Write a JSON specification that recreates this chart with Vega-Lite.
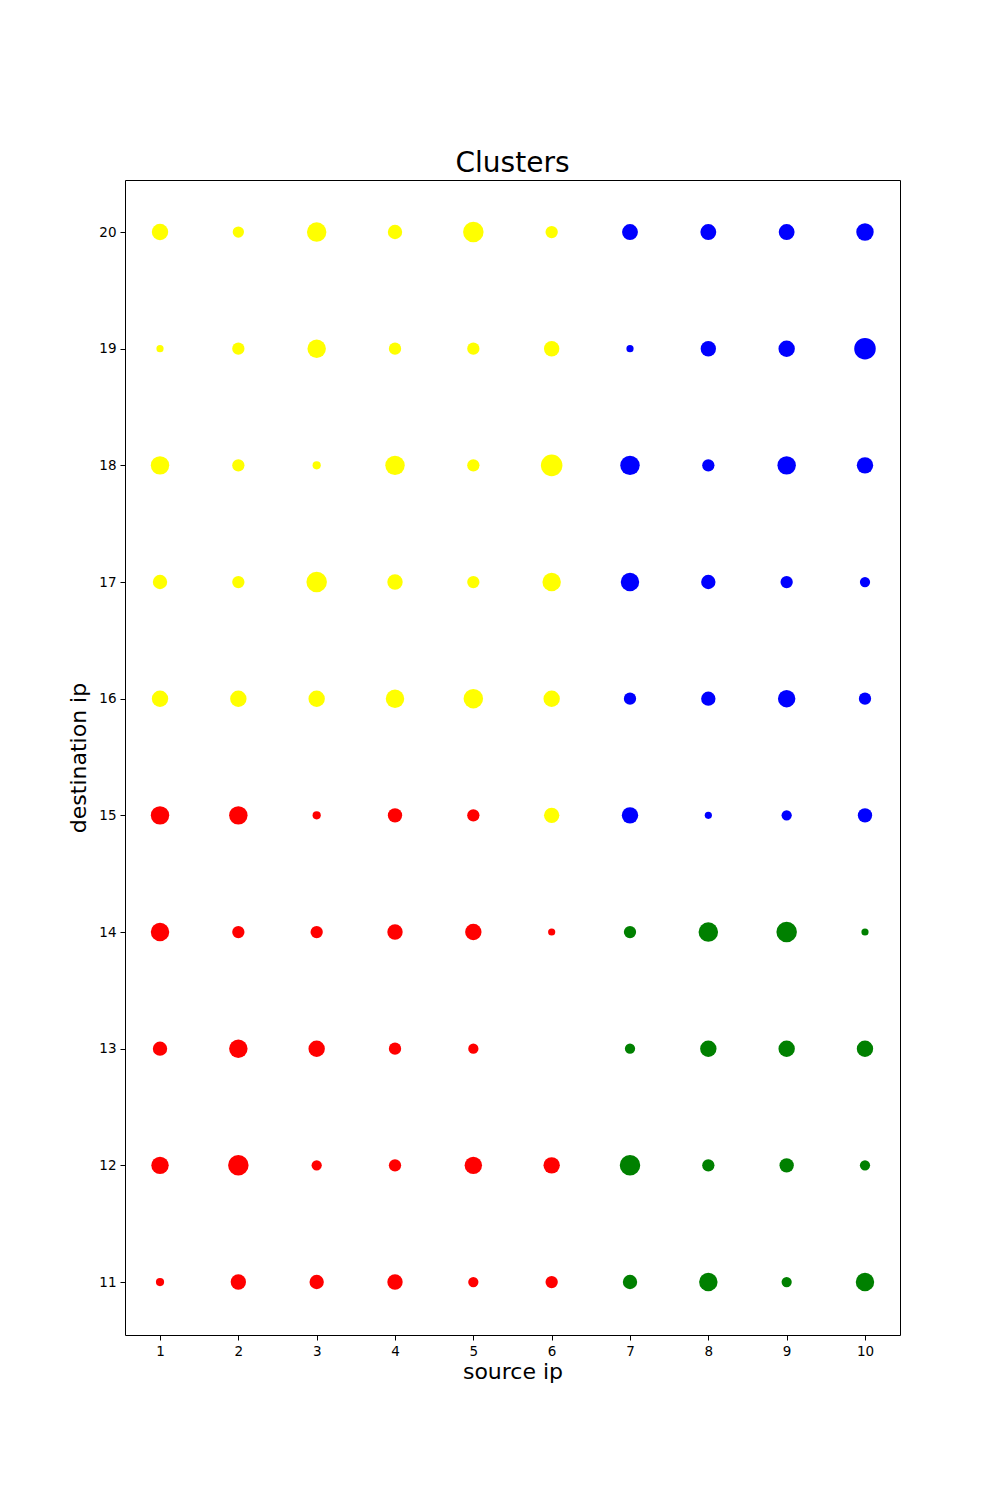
{
  "$schema": "https://vega.github.io/schema/vega-lite/v6.json",
  "width": 775,
  "height": 1155,
  "autosize": "none",
  "padding": {"left": 125, "top": 180, "right": 100, "bottom": 165},
  "background": "white",
  "config": {
    "font": "DejaVu Sans",
    "view": {"stroke": "#000000", "strokeWidth": 1},
    "axis": {"grid": false, "domainColor": "#000", "tickColor": "#000", "labelColor": "#000", "titleColor": "#000", "labelFont": "DejaVu Sans", "titleFont": "DejaVu Sans", "labelFontSize": 13.5, "titleFontSize": 22, "titleFontWeight": "normal", "tickSize": 5, "labelPadding": 4}
  },
  "title": {"text": "Clusters", "fontSize": 28, "fontWeight": "normal", "font": "DejaVu Sans", "color": "#000", "offset": 2, "anchor": "middle"},
  "data": {"values": [
    {"src": 1, "dst": 20, "cluster": "yellow", "v": 256}, {"src": 2, "dst": 20, "cluster": "yellow", "v": 121}, {"src": 3, "dst": 20, "cluster": "yellow", "v": 361}, {"src": 4, "dst": 20, "cluster": "yellow", "v": 196}, {"src": 5, "dst": 20, "cluster": "yellow", "v": 400}, {"src": 6, "dst": 20, "cluster": "yellow", "v": 144}, {"src": 7, "dst": 20, "cluster": "blue", "v": 240}, {"src": 8, "dst": 20, "cluster": "blue", "v": 240}, {"src": 9, "dst": 20, "cluster": "blue", "v": 240}, {"src": 10, "dst": 20, "cluster": "blue", "v": 289},
    {"src": 1, "dst": 19, "cluster": "yellow", "v": 49}, {"src": 2, "dst": 19, "cluster": "yellow", "v": 144}, {"src": 3, "dst": 19, "cluster": "yellow", "v": 324}, {"src": 4, "dst": 19, "cluster": "yellow", "v": 144}, {"src": 5, "dst": 19, "cluster": "yellow", "v": 144}, {"src": 6, "dst": 19, "cluster": "yellow", "v": 225}, {"src": 7, "dst": 19, "cluster": "blue", "v": 49}, {"src": 8, "dst": 19, "cluster": "blue", "v": 225}, {"src": 9, "dst": 19, "cluster": "blue", "v": 256}, {"src": 10, "dst": 19, "cluster": "blue", "v": 441},
    {"src": 1, "dst": 18, "cluster": "yellow", "v": 324}, {"src": 2, "dst": 18, "cluster": "yellow", "v": 144}, {"src": 3, "dst": 18, "cluster": "yellow", "v": 64}, {"src": 4, "dst": 18, "cluster": "yellow", "v": 361}, {"src": 5, "dst": 18, "cluster": "yellow", "v": 144}, {"src": 6, "dst": 18, "cluster": "yellow", "v": 441}, {"src": 7, "dst": 18, "cluster": "blue", "v": 361}, {"src": 8, "dst": 18, "cluster": "blue", "v": 144}, {"src": 9, "dst": 18, "cluster": "blue", "v": 324}, {"src": 10, "dst": 18, "cluster": "blue", "v": 256},
    {"src": 1, "dst": 17, "cluster": "yellow", "v": 196}, {"src": 2, "dst": 17, "cluster": "yellow", "v": 144}, {"src": 3, "dst": 17, "cluster": "yellow", "v": 400}, {"src": 4, "dst": 17, "cluster": "yellow", "v": 225}, {"src": 5, "dst": 17, "cluster": "yellow", "v": 144}, {"src": 6, "dst": 17, "cluster": "yellow", "v": 324}, {"src": 7, "dst": 17, "cluster": "blue", "v": 324}, {"src": 8, "dst": 17, "cluster": "blue", "v": 196}, {"src": 9, "dst": 17, "cluster": "blue", "v": 144}, {"src": 10, "dst": 17, "cluster": "blue", "v": 100},
    {"src": 1, "dst": 16, "cluster": "yellow", "v": 256}, {"src": 2, "dst": 16, "cluster": "yellow", "v": 256}, {"src": 3, "dst": 16, "cluster": "yellow", "v": 256}, {"src": 4, "dst": 16, "cluster": "yellow", "v": 324}, {"src": 5, "dst": 16, "cluster": "yellow", "v": 361}, {"src": 6, "dst": 16, "cluster": "yellow", "v": 256}, {"src": 7, "dst": 16, "cluster": "blue", "v": 144}, {"src": 8, "dst": 16, "cluster": "blue", "v": 196}, {"src": 9, "dst": 16, "cluster": "blue", "v": 289}, {"src": 10, "dst": 16, "cluster": "blue", "v": 144},
    {"src": 1, "dst": 15, "cluster": "red", "v": 324}, {"src": 2, "dst": 15, "cluster": "red", "v": 324}, {"src": 3, "dst": 15, "cluster": "red", "v": 64}, {"src": 4, "dst": 15, "cluster": "red", "v": 196}, {"src": 5, "dst": 15, "cluster": "red", "v": 144}, {"src": 6, "dst": 15, "cluster": "yellow", "v": 225}, {"src": 7, "dst": 15, "cluster": "blue", "v": 256}, {"src": 8, "dst": 15, "cluster": "blue", "v": 49}, {"src": 9, "dst": 15, "cluster": "blue", "v": 100}, {"src": 10, "dst": 15, "cluster": "blue", "v": 196},
    {"src": 1, "dst": 14, "cluster": "red", "v": 324}, {"src": 2, "dst": 14, "cluster": "red", "v": 144}, {"src": 3, "dst": 14, "cluster": "red", "v": 144}, {"src": 4, "dst": 14, "cluster": "red", "v": 225}, {"src": 5, "dst": 14, "cluster": "red", "v": 256}, {"src": 6, "dst": 14, "cluster": "red", "v": 49}, {"src": 7, "dst": 14, "cluster": "green", "v": 144}, {"src": 8, "dst": 14, "cluster": "green", "v": 361}, {"src": 9, "dst": 14, "cluster": "green", "v": 400}, {"src": 10, "dst": 14, "cluster": "green", "v": 49},
    {"src": 1, "dst": 13, "cluster": "red", "v": 196}, {"src": 2, "dst": 13, "cluster": "red", "v": 324}, {"src": 3, "dst": 13, "cluster": "red", "v": 256}, {"src": 4, "dst": 13, "cluster": "red", "v": 144}, {"src": 5, "dst": 13, "cluster": "red", "v": 100}, {"src": 7, "dst": 13, "cluster": "green", "v": 100}, {"src": 8, "dst": 13, "cluster": "green", "v": 256}, {"src": 9, "dst": 13, "cluster": "green", "v": 256}, {"src": 10, "dst": 13, "cluster": "green", "v": 256},
    {"src": 1, "dst": 12, "cluster": "red", "v": 289}, {"src": 2, "dst": 12, "cluster": "red", "v": 400}, {"src": 3, "dst": 12, "cluster": "red", "v": 100}, {"src": 4, "dst": 12, "cluster": "red", "v": 144}, {"src": 5, "dst": 12, "cluster": "red", "v": 289}, {"src": 6, "dst": 12, "cluster": "red", "v": 256}, {"src": 7, "dst": 12, "cluster": "green", "v": 400}, {"src": 8, "dst": 12, "cluster": "green", "v": 144}, {"src": 9, "dst": 12, "cluster": "green", "v": 196}, {"src": 10, "dst": 12, "cluster": "green", "v": 100},
    {"src": 1, "dst": 11, "cluster": "red", "v": 64}, {"src": 2, "dst": 11, "cluster": "red", "v": 225}, {"src": 3, "dst": 11, "cluster": "red", "v": 196}, {"src": 4, "dst": 11, "cluster": "red", "v": 225}, {"src": 5, "dst": 11, "cluster": "red", "v": 100}, {"src": 6, "dst": 11, "cluster": "red", "v": 144}, {"src": 7, "dst": 11, "cluster": "green", "v": 196}, {"src": 8, "dst": 11, "cluster": "green", "v": 324}, {"src": 9, "dst": 11, "cluster": "green", "v": 100}, {"src": 10, "dst": 11, "cluster": "green", "v": 324}
  ]},
  "mark": {"type": "circle", "opacity": 1, "stroke": null},
  "encoding": {
    "x": {"field": "src", "type": "quantitative", "title": "source ip", "scale": {"domain": [0.553, 10.447], "nice": false, "zero": false}, "axis": {"values": [1,2,3,4,5,6,7,8,9,10], "titlePadding": 4, "domain": false}},
    "y": {"field": "dst", "type": "quantitative", "title": "destination ip", "scale": {"domain": [10.546, 20.446], "nice": false, "zero": false}, "axis": {"values": [11,12,13,14,15,16,17,18,19,20], "titlePadding": 8, "domain": false}},
    "color": {"field": "cluster", "type": "nominal", "scale": {"domain": ["red", "yellow", "blue", "green"], "range": ["#ff0000", "#ffff00", "#0000ff", "#008000"]}, "legend": null},
    "size": {"field": "v", "type": "quantitative", "scale": {"type": "linear", "domain": [0, 400], "range": [0, 420], "zero": true}, "legend": null}
  }
}
